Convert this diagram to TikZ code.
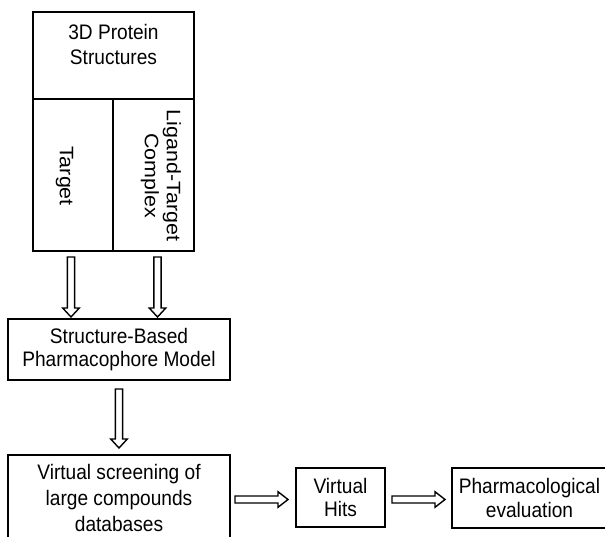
\documentclass[tikz,border=0pt]{standalone}
\usepackage{fontspec}
\setmainfont{Liberation Sans}
\newfontfamily\hfont{Liberation Sans}[FakeStretch=0.91]
\newfontfamily\vfont{Liberation Sans}[FakeStretch=1.1]
\usetikzlibrary{calc}
\tikzset{
 box/.style={draw, line width=1.8pt, inner sep=0pt, outer sep=0pt, align=center, font=\hfont\fontsize{21}{24}\selectfont},
 txt/.style={inner sep=0pt, align=center, font=\hfont\fontsize{21}{24.5}\selectfont},
 rtxt/.style={inner sep=0pt, align=center, rotate=-90, font=\vfont\fontsize{19.5}{22}\selectfont},
 hollowarrow/.style={draw, line width=1.4pt, line join=miter, fill=white},
}
\newcommand{\vhollow}[2]{\draw[hollowarrow] let \p1=(#1), \p2=(#2) in (\x1-3.6pt,\y1) -- (\x1-3.6pt,\y2+9pt) -- (\x1-8.3pt,\y2+9pt) -- (\x1,\y2) -- (\x1+8.3pt,\y2+9pt) -- (\x1+3.6pt,\y2+9pt) -- (\x1+3.6pt,\y1) -- cycle;}
\newcommand{\hhollow}[2]{\draw[hollowarrow] let \p1=(#1), \p2=(#2) in (\x1,\y1+3.5pt) -- (\x2-10pt,\y1+3.5pt) -- (\x2-10pt,\y1+7.8pt) -- (\x2,\y1) -- (\x2-10pt,\y1-7.8pt) -- (\x2-10pt,\y1-3.5pt) -- (\x1,\y1-3.5pt) -- cycle;}
\begin{document}
\begin{tikzpicture}[x=1pt,y=-1pt]
\useasboundingbox (0,0) rectangle (605,536);
\clip (0,0) rectangle (605,536);
% top composite box
\node[box, minimum width=161pt, minimum height=87pt] (top) at (113.5,55.5) {};
\node[txt] (toptxt) at (113.5,44.5) {3D Protein\\Structures};
\node[box, minimum width=80pt, minimum height=152pt] (tgt) at (73,175) {};
\node[rtxt] (tgttxt) at (64.5,176) {Target};
\node[box, minimum width=81pt, minimum height=152pt] (lig) at (153.5,175) {};
\node[rtxt] (ligtxt) at (161,175.5) {Ligand-Target\\Complex};
% model
\node[box, minimum width=222pt, minimum height=61pt, font=\hfont\fontsize{21}{23}\selectfont] (struct) at (119,349.5) {Structure-Based\\Pharmacophore Model};
% bottom row
\node[box, minimum width=222pt, minimum height=90pt] (vs) at (119,500) {};
\node[txt, font=\hfont\fontsize{21}{26}\selectfont] (vstxt) at (119,497.5) {Virtual screening of\\large compounds\\databases};
\node[box, minimum width=89pt, minimum height=59pt, font=\hfont\fontsize{21}{23}\selectfont] (hits) at (340.5,497.5) {Virtual\\Hits};
\node[box, minimum width=155pt, minimum height=60pt] (pharm) at (529.5,498) {Pharmacological\\evaluation};
% arrows
\vhollow{$(tgt.south)+(-2,6)$}{$(struct.north)+(0,-2)$}
\vhollow{$(lig.south)+(4,6)$}{$(struct.north)+(0,-2)$}
\vhollow{$(struct.south)+(0,9)$}{$(vs.north)+(0,-7)$}
\hhollow{$(vs.east)+(5,-0.5)$}{$(hits.west)+(-8,0)$}
\hhollow{$(hits.east)+(7,2)$}{$(pharm.west)+(-7,0)$}
\end{tikzpicture}
\end{document}
